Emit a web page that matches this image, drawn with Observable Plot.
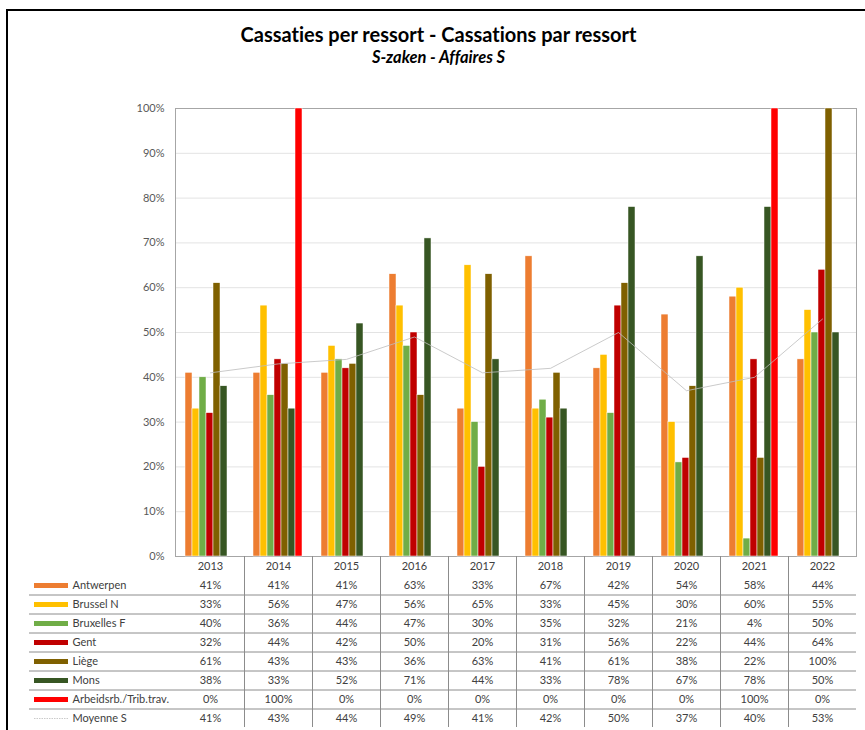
<!DOCTYPE html>
<html>
<head>
<meta charset="utf-8">
<script src="https://cdn.jsdelivr.net/npm/d3@7"></script>
<script src="https://cdn.jsdelivr.net/npm/@observablehq/plot@0.6"></script>
<style>
  body { margin: 0; background: #fff; }
  #wrap { position: relative; width: 865px; height: 730px; overflow: hidden; background: #fff; font-family: Lato, "Liberation Sans", sans-serif; font-variant-ligatures: none; }
  #wrap svg, #wrap text { font-variant-ligatures: none; }
  #frame { position: absolute; left: 6px; top: 9px; width: 1000px; height: 1000px; border-left: 2px solid #000; border-top: 2px solid #000; }
  #title { position: absolute; left: 6px; width: 865px; top: 22px; text-align: center; font-weight: bold; font-size: 20px; color: #000; }
  #subtitle { position: absolute; left: 6px; width: 865px; top: 47px; text-align: center; font-weight: bold; font-style: italic; font-size: 16.5px; color: #000; }
  .layer { position: absolute; left: 0; }
  .layer svg { overflow: visible; }
</style>
</head>
<body>
<div id="wrap">
  <div id="frame"></div>
  <div id="title">Cassaties per ressort - Cassations par ressort</div>
  <div id="subtitle">S-zaken - Affaires S</div>
  <div class="layer" id="bg" style="top:0"></div>
  <div class="layer" id="bars" style="top:0"></div>
  <div class="layer" id="line" style="top:0"></div>
  <div class="layer" id="table" style="top:556px"></div>
</div>
<script>
// ---- data ----
const years = [2013, 2014, 2015, 2016, 2017, 2018, 2019, 2020, 2021, 2022];
const seriesNames = ["Antwerpen", "Brussel N", "Bruxelles F", "Gent", "Liège", "Mons", "Arbeidsrb./Trib.trav."];
const seriesColors = ["#ED7D31", "#FFC000", "#70AD47", "#C00000", "#7F6000", "#375623", "#FF0000"];
const antwerpen  = [41, 41, 41, 63, 33, 67, 42, 54, 58, 44];
const brusselN   = [33, 56, 47, 56, 65, 33, 45, 30, 60, 55];
const bruxellesF = [40, 36, 44, 47, 30, 35, 32, 21, 4, 50];
const gent       = [32, 44, 42, 50, 20, 31, 56, 22, 44, 64];
const liege      = [61, 43, 43, 36, 63, 41, 61, 38, 22, 100];
const mons       = [38, 33, 52, 71, 44, 33, 78, 67, 78, 50];
const arbeid     = [0, 100, 0, 0, 0, 0, 0, 0, 100, 0];
const averageName = "Moyenne S";
const moyenne    = [41, 43, 44, 49, 41, 42, 50, 37, 40, 53];
const yTicks = [0, 0.1, 0.2, 0.3, 0.4, 0.5, 0.6, 0.7, 0.8, 0.9, 1];

const seriesValues = [antwerpen, brusselN, bruxellesF, gent, liege, mons, arbeid];
const barData = seriesNames.flatMap((s, i) => years.map((y, j) => ({year: y, series: s, value: seriesValues[i][j] / 100})));
const avgData = years.map((y, j) => ({year: y, value: moyenne[j] / 100}));
const rowNames = [...seriesNames, averageName];
const allValues = [...seriesValues, moyenne];
const cellData = rowNames.flatMap((s, i) => years.map((y, j) => ({year: y, series: s, value: allValues[i][j]})));

const FONT = "Lato, 'Liberation Sans', sans-serif";
const W = 865, H = 560;
const common = {width: W, height: H, marginLeft: 175, marginRight: 9, marginTop: 108, marginBottom: 4};
const colorScale = {domain: seriesNames, range: seriesColors};

// ---- background: axis, grid, frame ----
document.getElementById("bg").append(Plot.plot({
  ...common,
  style: {fontFamily: FONT, fontSize: "11px", color: "#595959", background: "transparent"},
  x: {type: "band", domain: years, axis: null},
  y: {domain: [0, 1], ticks: yTicks, tickFormat: d3.format(".0%"), tickSize: 0, tickPadding: 11, label: null},
  marks: [
    Plot.ruleY(yTicks, {stroke: "#E3E3E3", strokeWidth: 1}),
    Plot.frame({stroke: "#A6A6A6"})
  ]
}));

// ---- grouped bars ----
document.getElementById("bars").append(Plot.plot({
  ...common,
  style: {background: "transparent"},
  facet: {data: barData, x: "year"},
  fx: {domain: years, paddingInner: 0.2, paddingOuter: 0.1, axis: null, label: null},
  x: {domain: seriesNames, padding: 0.06, axis: null},
  y: {domain: [0, 1], axis: null},
  color: colorScale,
  marks: [
    Plot.barY(barData, {x: "series", y: "value", fill: "series", stroke: "white", strokeWidth: 0.5, filter: d => d.value > 0})
  ]
}));

// ---- average line ----
document.getElementById("line").append(Plot.plot({
  ...common,
  style: {background: "transparent"},
  x: {type: "point", domain: years, padding: 0.5, axis: null},
  y: {domain: [0, 1], axis: null},
  marks: [
    Plot.line(avgData, {x: "year", y: "value", stroke: "#BDBDBD", strokeWidth: 0.8})
  ]
}));

// ---- data table ----
document.getElementById("table").append(Plot.plot({
  width: W, height: 174, marginLeft: 29, marginRight: 9, marginTop: 0, marginBottom: 3,
  style: {fontFamily: FONT, fontSize: "11px", color: "#404040", background: "transparent"},
  x: {type: "point", domain: years, range: [175, 856], padding: 0.5, axis: null},
  y: {type: "point", domain: ["header", ...rowNames], padding: 0.5, axis: null},
  marks: [
    Plot.ruleY(seriesNames, {y: d => d, dy: 9.5, stroke: "#8C8C8C", strokeWidth: 1}),
    Plot.ruleX(years.slice(1), {x: d => d, dx: -34, stroke: "#8C8C8C", strokeWidth: 1}),
    Plot.text(years, {x: d => d, y: () => "header", text: d => String(d), fill: "#404040"}),
    Plot.text(cellData, {x: "year", y: "series", text: d => d.value + "%", fill: "#404040"}),
    Plot.ruleY(seriesNames, {y: d => d, stroke: d => seriesColors[seriesNames.indexOf(d)], strokeWidth: 5, insetLeft: 5, insetRight: 788}),
    Plot.ruleY([averageName], {y: d => d, stroke: "#BDBDBD", strokeWidth: 0.8, strokeDasharray: "1.5,1", insetLeft: 5, insetRight: 788}),
    Plot.text(rowNames, {y: d => d, text: d => d, frameAnchor: "left", textAnchor: "start", dx: 43, fill: "#404040"})
  ]
}));
</script>
</body>
</html>
